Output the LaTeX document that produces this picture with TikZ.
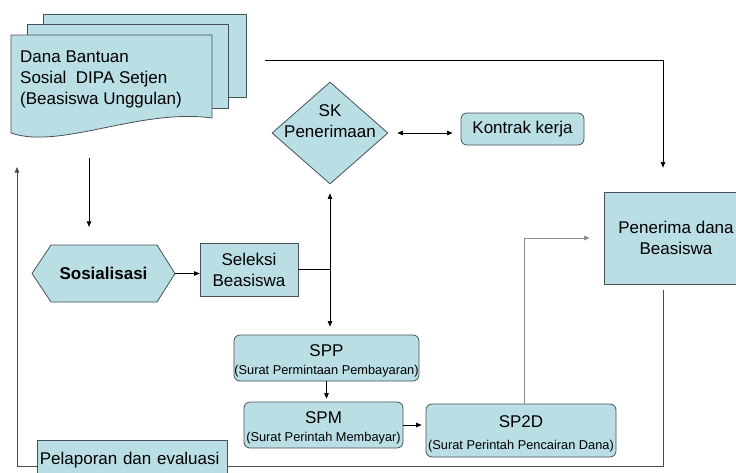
\documentclass[tikz,border=0pt]{standalone}
\usepackage{fontspec}
\setmainfont{Liberation Sans}
\usetikzlibrary{shapes.geometric,arrows.meta}
\definecolor{boxfill}{RGB}{185,222,228}
\definecolor{boxline}{RGB}{70,82,88}
\newcommand{\bigtxt}{\fontsize{17}{21}\selectfont}
\newcommand{\smalltxt}{\fontsize{12.8}{15}\selectfont}
\newcommand{\tall}{\rule{0pt}{18pt}}
\begin{document}
\begin{tikzpicture}[x=1pt,y=-1pt,font=\bigtxt,
  every node/.style={inner sep=0pt},
  box/.style={draw=boxline,fill=boxfill,line width=0.8pt},
  rbox/.style={box,rounded corners=6pt},
  arr/.style={line width=0.7pt,-{Triangle[length=5.5pt,width=4.5pt]}},
  dbl/.style={line width=0.7pt,{Triangle[length=5.5pt,width=4.5pt]}-{Triangle[length=5.5pt,width=4.5pt]}},
  darkline/.style={draw=black!70},
  greyline/.style={draw=black!45}]
\clip (0,0) rectangle (736,472);
\node[box,minimum width=203,minimum height=83] (pg3) at (144.5,55.5) {};
\node[box,minimum width=201,minimum height=84] (pg2) at (127.5,66) {};
\draw[box] (11,35) -- (212,35) -- (212,118) .. controls (140,108) and (60,150) .. (11,133) -- cycle;
\node[align=left,anchor=west] (dana) at (20,79) {Dana Bantuan\\Sosial\ \ DIPA Setjen\\(Beasiswa Unggulan)};
\node[box,diamond,minimum width=116,minimum height=102] (sk) at (330,133) {};
\node[align=center] (sktxt) at (330,121) {SK\\Penerimaan};
\node[rbox,minimum width=123,minimum height=32] (kontrak) at (522.5,129) {Kontrak kerja};
\draw[box] (32,273.5) -- (51,245) -- (157,245) -- (175,273.5) -- (157,302) -- (51,302) -- cycle;
\node[minimum width=143,minimum height=57,font=\bigtxt\bfseries] (sos) at (103.5,273.5) {Sosialisasi};
\node[box,minimum width=98,minimum height=53,align=center] (sel) at (249,269.5) {Seleksi\\Beasiswa};
\node[rbox,minimum width=185,minimum height=46,align=center] (spp) at (326.5,358) {\tall SPP\\[-3pt]\smalltxt (Surat Permintaan Pembayaran)};
\node[rbox,minimum width=159,minimum height=46,align=center] (spm) at (323.5,425) {\tall SPM\\[-3pt]\smalltxt (Surat Perintah Membayar)};
\node[rbox,minimum width=190,minimum height=53,align=center] (sp2d) at (521,430.5) {\tall SP2D\\[1pt]\smalltxt (Surat Perintah Pencairan Dana)};
\node[box,minimum width=144,minimum height=92,align=center] (penerima) at (676,238) {Penerima dana\\Beasiswa};
\coordinate (d1) at (89,158);
\coordinate (d2) at (265,60);
\coordinate (j) at (sk.south |- sel.east);
\coordinate (fb) at (17,466);
\coordinate (fbtop) at (17,167);
\draw[arr,shorten >=24pt] (d2) -| ([xshift=-13pt]penerima.north);
\draw[arr,shorten >=18pt] (d1) -- (d1 |- sos.north);
\draw[dbl,shorten <=9pt,shorten >=8pt] (sk.east) -- (sk.east -| kontrak.west);
\draw[arr] (sos.east) -- (sos.east -| sel.west);
\draw[line width=0.7pt] (sel.east) -- (j);
\draw[arr,shorten >=9pt] (j) -- (sk.south);
\draw[arr,shorten >=8pt] (j) -- (j |- spp.north);
\draw[arr,shorten >=3pt] (spp.south) -- (spp.south |- spm.north);
\draw[arr,shorten >=4pt] (spm.east) -- (spm.east -| sp2d.west);
\draw[arr,greyline,shorten >=14pt] ([xshift=3pt]sp2d.north) |- (penerima.west);
\draw[arr,darkline] ([xshift=-13pt,yshift=-6pt]penerima.south) |- (fb) -- (fbtop);
\node[box,anchor=north west,text width=185pt,inner xsep=2.5pt,minimum height=40,align=left] (lapor) at (37,440) {Pelaporan dan evaluasi};
\end{tikzpicture}
\end{document}
